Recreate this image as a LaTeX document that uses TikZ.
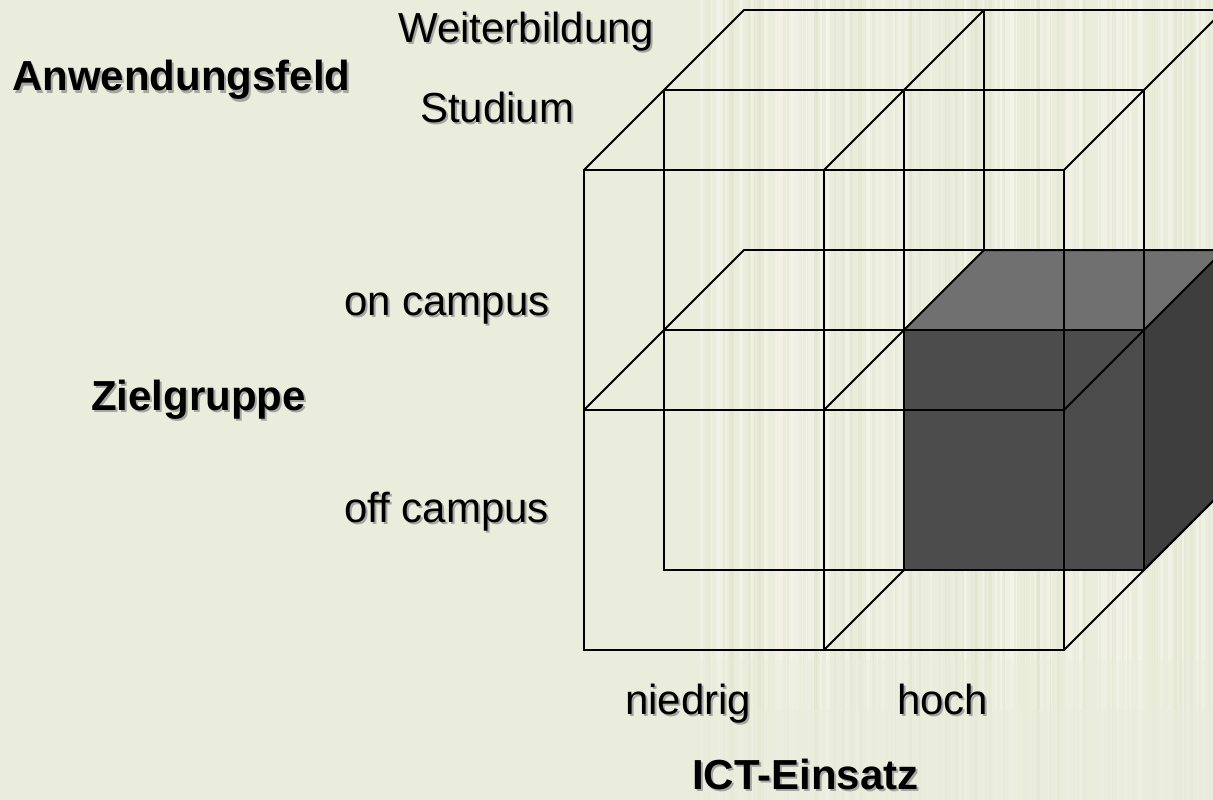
\documentclass[tikz,border=0pt]{standalone}
\usepackage{fontspec}
\setmainfont{Liberation Sans}
\usetikzlibrary{calc}
\definecolor{bg}{RGB}{234,236,220}
\definecolor{shadowgray}{RGB}{165,166,160}
\definecolor{frontgray}{RGB}{76,76,76}
\definecolor{topgray}{RGB}{112,112,112}
\definecolor{sidegray}{RGB}{62,62,62}
\definecolor{stripelight}{RGB}{246,247,236}
\definecolor{stripedark}{RGB}{222,227,200}
\tikzset{
  gridline/.style={draw=black, line width=2pt, line cap=round, line join=round},
  lbl/.style={inner sep=0pt, anchor=base west, font=\fontsize{42}{50}\selectfont},
  lblbold/.style={lbl, font=\fontsize{42}{50}\selectfont\bfseries},
}
\newcommand\shadowlabel[4]{%
  \node[#1, text=shadowgray] at ($(#2)+(2,2)$) {#4};
  \node[#1] (#3) at (#2) {#4};
}
\begin{document}
\begin{tikzpicture}[x=1pt,y=-1pt]
\useasboundingbox (0,0) rectangle (1213,800);
\clip (0,0) rectangle (1213,800);
\fill[bg] (0,0) rectangle (1213,800);
% faint striped texture of the slide background
\pgfmathsetseed{11}
\foreach \i in {1,...,110}{
  \pgfmathsetmacro\xx{700+rnd*513}
  \pgfmathsetmacro\ww{1+rnd*4}
  \fill[stripelight, opacity=0.5] (\xx,0) rectangle ++(\ww,660);
  \fill[stripelight, opacity=0.3] (\xx,660) rectangle ++(\ww,50);
  \fill[stripelight, opacity=0.15] (\xx,710) rectangle ++(\ww,90);
}
\foreach \i in {1,...,70}{
  \pgfmathsetmacro\xx{700+rnd*513}
  \pgfmathsetmacro\ww{1+rnd*3}
  \fill[stripedark, opacity=0.4] (\xx,0) rectangle ++(\ww,660);
  \fill[stripedark, opacity=0.25] (\xx,660) rectangle ++(\ww,50);
  \fill[stripedark, opacity=0.12] (\xx,710) rectangle ++(\ww,90);
}
% grid points: p<layer><column><row>
\foreach \L in {0,1,2}
  \foreach \c in {0,1,2}
    \foreach \r in {0,1,2}
      \coordinate (p\L\c\r) at ({584+240*\c+80*\L},{170+240*\r-80*\L});
% back layer (visible parts)
\draw[gridline] (p200) -- (p220);
\draw[gridline] (p201) -- (p211);
\draw[gridline] (p210) -- (p211);
% shaded cell
\fill[topgray] (p111) -- (p211) -- (p221) -- (p121) -- cycle;
\fill[sidegray] (p121) -- (p221) -- (p222) -- (p122) -- cycle;
\fill[frontgray] (p111) -- (p121) -- (p122) -- (p112) -- cycle;
\draw[gridline] (p211) -- (p221) -- (p222) -- (p122);
% middle layer
\foreach \r in {0,1,2} \draw[gridline] (p10\r) -- (p12\r);
\foreach \c in {0,1,2} \draw[gridline] (p1\c0) -- (p1\c2);
% front layer
\foreach \r in {0,1,2} \draw[gridline] (p00\r) -- (p02\r);
\foreach \c in {0,1,2} \draw[gridline] (p0\c0) -- (p0\c2);
% depth edges
\draw[gridline] (p000) -- (p200);
\draw[gridline] (p010) -- (p210);
\draw[gridline] (p020) -- (p220);
\draw[gridline] (p001) -- (p201);
\draw[gridline] (p011) -- (p211);
\draw[gridline] (p021) -- (p221);
\draw[gridline] (p012) -- (p112);
\draw[gridline] (p022) -- (p222);
% labels
\coordinate (cW) at (398,43);
\coordinate (cA) at (12,91);
\coordinate (cS) at (420,122);
\coordinate (cOn) at (344,315);
\coordinate (cZ) at (91,410);
\coordinate (cOff) at (344,522);
\coordinate (cN) at (625,714);
\coordinate (cH) at (897,714);
\coordinate (cI) at (692,789);
\shadowlabel{lbl}{cW}{weiter}{Weiterbildung}
\shadowlabel{lblbold}{cA}{anw}{Anwendungsfeld}
\shadowlabel{lbl}{cS}{stud}{Studium}
\shadowlabel{lbl}{cOn}{oncamp}{on campus}
\shadowlabel{lblbold}{cZ}{ziel}{Zielgruppe}
\shadowlabel{lbl}{cOff}{offcamp}{off campus}
\shadowlabel{lbl}{cN}{niedrig}{niedrig}
\shadowlabel{lbl}{cH}{hoch}{hoch}
\shadowlabel{lblbold,text depth=0pt}{cI}{ict}{ICT-Einsatz}
\end{tikzpicture}
\end{document}
